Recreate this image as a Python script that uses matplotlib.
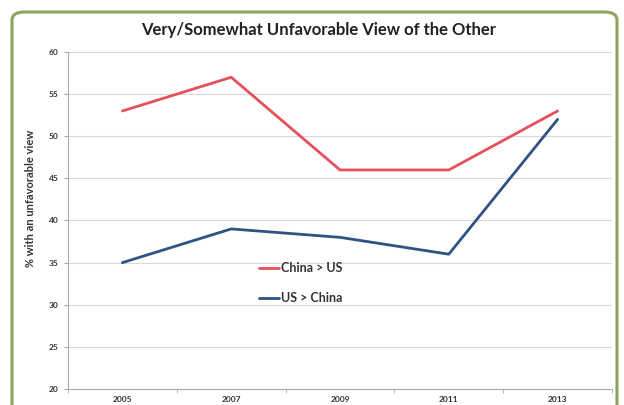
import numpy as np
import matplotlib.pyplot as plt
from matplotlib.patches import FancyBboxPatch
from matplotlib.ticker import FixedLocator

plt.rcParams['font.family'] = ['Lato', 'DejaVu Sans']

# values
years = ["2005", "2007", "2009", "2011", "2013"]
china_on_us = [53, 57, 46, 46, 53]
us_on_china = [35, 39, 38, 36, 52]
y_ticks = [20, 25, 30, 35, 40, 45, 50, 55, 60]

fig = plt.figure(figsize=(6.24, 4.05), dpi=100)

# rounded green frame around the chart (bottom runs off the picture)
frame = FancyBboxPatch((12 / 624, -0.05), 605 / 624, 1.0 - 12 / 405 + 0.05,
                       boxstyle="round,pad=0,rounding_size=0.02",
                       transform=fig.transFigure, facecolor="none",
                       edgecolor="#8ea45e", linewidth=2.2, zorder=-5)
fig.patches.append(frame)

ax = fig.add_axes([68 / 624, 1 - 389 / 405, 544 / 624, 337 / 405])
ax.set_facecolor("none")
ax.set_zorder(2)

x = np.arange(len(years))
ax.plot(x, china_on_us, color="#e6505a", lw=2.0, label="China > US",
        solid_capstyle="round")
ax.plot(x, us_on_china, color="#2f5384", lw=2.0, label="US > China",
        solid_capstyle="round")

ax.set_xlim(-0.5, len(years) - 0.5)
ax.set_ylim(20, 60)
ax.set_yticks(y_ticks)
ax.set_yticklabels([str(v) for v in y_ticks], fontsize=6, fontweight="bold",
                   color="#333333")
ax.set_xticks(x)
ax.set_xticklabels(years, fontsize=6, fontweight="bold", color="#333333")
ax.xaxis.set_minor_locator(FixedLocator(np.arange(-0.5, len(years), 1.0)))
ax.tick_params(axis="x", which="major", length=0, pad=5)
ax.tick_params(axis="x", which="minor", length=3, color="#aaaaaa")
ax.tick_params(axis="y", length=3, color="#aaaaaa", pad=4)

ax.grid(axis="y", color="#d9d9d9", lw=0.8)
ax.set_axisbelow(True)
for side in ["top", "right"]:
    ax.spines[side].set_visible(False)
for side in ["left", "bottom"]:
    ax.spines[side].set_color("#aaaaaa")
    ax.spines[side].set_linewidth(0.8)

ax.set_ylabel("% with an unfavorable view", fontsize=8, fontweight="bold",
              color="#333333")
ax.yaxis.set_label_coords(-0.058, 0.567)

fig.text(0.51, 1 - 30 / 405, "Very/Somewhat Unfavorable View of the Other",
         ha="center", va="center", fontsize=12, fontweight="bold",
         color="#222222")

leg = ax.legend(loc="upper left", bbox_to_anchor=(0.33, 0.41), frameon=False,
                handlelength=1.6, handletextpad=0.2, labelspacing=1.45,
                prop={"weight": "bold", "size": 9})
for t in leg.get_texts():
    t.set_color("#333333")

fig.savefig("out.png", dpi=100)
